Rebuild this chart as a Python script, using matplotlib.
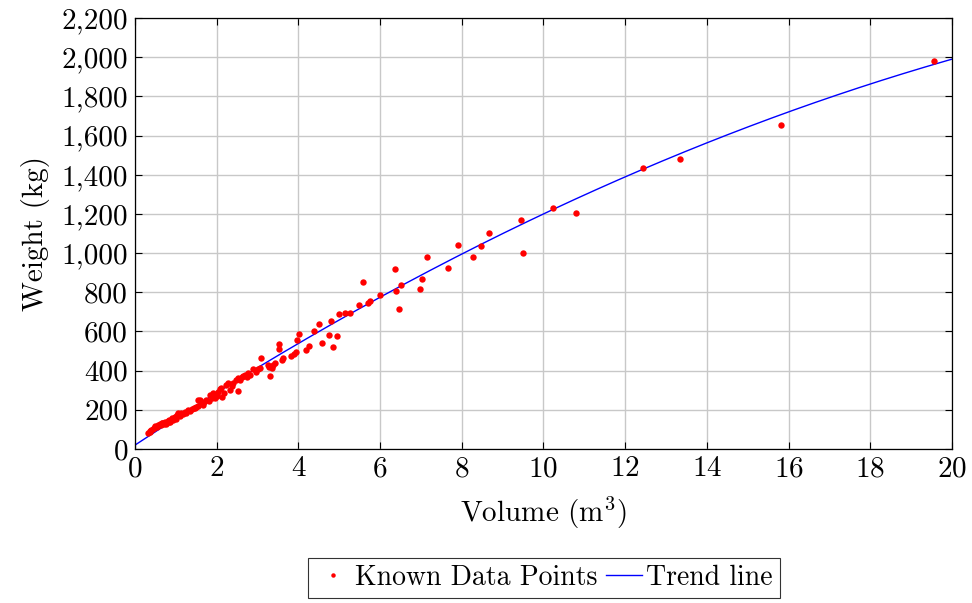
import numpy as np
import matplotlib
matplotlib.use('Agg')
import matplotlib.pyplot as plt
from matplotlib.ticker import FuncFormatter

plt.rcParams['font.family'] = ['cmr10', 'DejaVu Serif']
plt.rcParams['mathtext.fontset'] = 'cm'
plt.rcParams['axes.formatter.use_mathtext'] = True

# volume (m^3) and weight (kg)
volume = [0.32, 0.36, 0.37, 0.40, 0.43, 0.47, 0.49, 0.50, 0.53, 0.56, 0.60, 0.63,
          0.65, 0.66, 0.70, 0.73, 0.76, 0.80, 0.82, 0.83, 0.86, 0.90, 0.93, 0.97,
          0.98, 1.00, 1.03, 1.06, 1.10, 1.13, 1.17, 1.22, 1.25, 1.30, 1.35, 1.40,
          1.45, 1.47, 1.50, 1.54, 1.55, 1.59, 1.63, 1.66, 1.70, 1.75, 1.80, 1.84,
          1.88, 1.92, 1.96, 2.00, 2.04, 2.08, 2.10, 2.12, 2.18, 2.23, 2.28, 2.33,
          2.38, 2.41, 2.47, 2.51, 2.53, 2.57, 2.61, 2.65, 2.69, 2.73, 2.77, 2.82,
          2.90, 2.96, 3.02, 3.06, 3.08, 3.26, 3.29, 3.30, 3.35, 3.37, 3.43, 3.52,
          3.52, 3.59, 3.63, 3.82, 3.89, 3.94, 3.96, 4.01, 4.19, 4.26, 4.38, 4.51,
          4.57, 4.75, 4.81, 4.84, 4.94, 4.99, 5.14, 5.26, 5.49, 5.58, 5.70, 5.75,
          5.99, 6.36, 6.39, 6.46, 6.50, 6.98, 7.02, 7.14, 7.65, 7.91, 8.27, 8.47,
          8.67, 9.45, 9.50, 10.23, 10.80, 12.44, 13.34, 15.81, 19.56]
weight = [80, 88, 90, 95, 100, 108, 114, 115, 112, 122, 128, 120,
          131, 135, 130, 140, 128, 145, 139, 150, 140, 158, 150, 165,
          165, 155, 172, 182, 170, 185, 178, 190, 185, 198, 195, 205,
          210, 208, 215, 250, 220, 250, 233, 225, 240, 250, 245, 278,
          258, 284, 260, 270, 293, 305, 310, 267, 285, 327, 335, 301,
          320, 338, 352, 298, 361, 350, 366, 372, 378, 370, 386, 380,
          410, 395, 407, 412, 463, 429, 420, 374, 412, 429, 437, 538,
          509, 454, 463, 473, 483, 493, 556, 588, 505, 528, 602, 638,
          542, 580, 651, 523, 577, 688, 696, 696, 737, 855, 745, 754,
          788, 917, 808, 717, 837, 818, 866, 981, 922, 1042, 980, 1036,
          1103, 1168, 998, 1230, 1203, 1434, 1480, 1654, 1980]

# quadratic trend line coefficients (c2, c1, c0)
trend_coef = [-1.95, 137.5, 20.0]

x_ticks = [0, 2, 4, 6, 8, 10, 12, 14, 16, 18, 20]
y_ticks = [0, 200, 400, 600, 800, 1000, 1200, 1400, 1600, 1800, 2000, 2200]

xs = np.linspace(0, 20, 300)
ys = np.polyval(trend_coef, xs)

fig = plt.figure(figsize=(9.72, 6.03), dpi=100)
ax = fig.add_axes([0.1389, 0.2554, 0.8405, 0.7147])

ax.grid(True, color='#c8c8c8', linewidth=1.0, zorder=0)
ax.plot(volume, weight, linestyle='none', marker='o', color='red', markersize=4.6,
        markeredgewidth=0, label='Known Data Points', zorder=3)
ax.plot(xs, ys, color='blue', linewidth=1.0, label='Trend line', zorder=2)

ax.set_xlim(0, 20)
ax.set_ylim(0, 2200)
ax.set_xticks(x_ticks)
ax.set_yticks(y_ticks)
ax.yaxis.set_major_formatter(FuncFormatter(lambda v, p: f'{v:,.0f}'))
ax.tick_params(direction='in', top=True, right=True, length=5, width=0.8,
               labelsize=21, pad=5)
for s in ax.spines.values():
    s.set_linewidth(0.9)

ax.set_xlabel(r'Volume (m$^{3}$)', fontsize=21, labelpad=9)
ax.set_ylabel('Weight (kg)', fontsize=21, labelpad=8)

leg = fig.legend(loc='center', bbox_to_anchor=(0.5597, 0.0415), ncol=2,
                 fontsize=20, frameon=True, fancybox=False, edgecolor='black',
                 handlelength=1.3, handletextpad=0.15, columnspacing=0.3,
                 borderpad=0.25, borderaxespad=0.2, markerscale=0.7)
leg.get_frame().set_linewidth(0.8)

fig.savefig('out.png', dpi=100)
